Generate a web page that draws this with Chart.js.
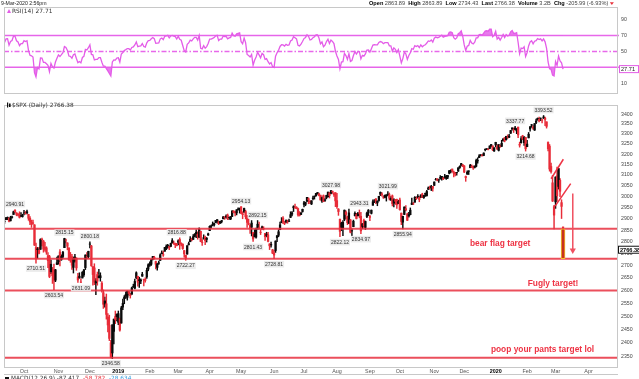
<!DOCTYPE html>
<html><head><meta charset="utf-8">
<script src="https://cdn.jsdelivr.net/npm/chart.js@4.4.1/dist/chart.umd.min.js"></script>
<style>
html,body{margin:0;padding:0;background:#fff;}
#wrap{position:relative;width:639px;height:379px;overflow:hidden;background:#fff;}
canvas{position:absolute;left:0;}
#rsi{top:0;} #main{top:99px;}
</style></head><body>
<div id="wrap"><canvas id="rsi" width="639" height="100"></canvas><canvas id="main" width="639" height="280"></canvas></div>
<script>
// ---- daily candles [open, high, low, close] ----
const sep2018 = [[2888,2894,2879,2889],[2896,2906,2896,2904],[2906,2908,2896,2905],[2903,2905,2886,2889],[2891,2911,2890,2904],[2906,2912,2903,2908],[2919,2934,2919,2931],[2937,2940.91,2927,2930],[2926,2927,2913,2919],[2921,2923,2913,2916],[2917,2931,2903,2906],[2911,2927,2909,2914],[2910,2920,2907,2914]];
const oct2018 = [[2926,2937,2917,2925],[2924,2932,2920,2923],[2931,2939,2921,2926],[2919,2920,2893,2902],[2902,2910,2874,2886],[2877,2894,2862,2884],[2882,2894,2875,2880],[2873,2874,2784,2786],[2776,2795,2710.51,2728],[2770,2776,2730,2767],[2764,2776,2749,2751],[2768,2813,2768,2810],[2811,2816,2782,2809],[2803,2806,2756,2769],[2776,2798,2760,2768],[2774,2779,2747,2756],[2721,2754,2692,2741],[2738,2743,2651,2656],[2675,2723,2667,2706],[2668,2693,2628,2659],[2683,2707,2603.54,2641],[2641,2685,2635,2683],[2705,2736,2705,2712]];
const nov2018 = [[2717,2741,2706,2740],[2757,2767,2699,2723],[2726,2745,2722,2738],[2738,2760,2732,2755],[2775,2815.15,2775,2814],[2807,2812,2795,2807],[2795,2796,2766,2781],[2773,2775,2722,2726],[2730,2755,2714,2722],[2737,2747,2685,2702],[2693,2736,2670,2730],[2719,2747,2714,2736],[2731,2733,2681,2691],[2654,2669,2632,2642],[2657,2671,2649,2650],[2633,2647,2631.09,2633],[2650,2676,2650,2673],[2663,2685,2656,2682],[2692,2745,2684,2744],[2736,2754,2729,2738],[2737,2760,2731,2760]];
const dec2018 = [[2790,2800.18,2774,2790],[2782,2785,2697,2700],[2664,2696,2621,2696],[2691,2708,2623,2633],[2630,2648,2583,2638],[2664,2674,2621,2637],[2658,2685,2650,2651],[2659,2671,2637,2651],[2629,2635,2593,2600],[2591,2602,2530,2546],[2559,2574,2535,2546],[2548,2586,2489,2507],[2497,2510,2441,2467],[2466,2504,2409,2417],[2401,2410,2346.58,2351],[2364,2467,2344,2468],[2443,2489,2397,2489],[2499,2520,2472,2486],[2498,2509,2482,2507]];
const jan2019 = [[2477,2520,2468,2510],[2491,2493,2444,2448],[2474,2538,2474,2532],[2535,2566,2525,2550],[2568,2580,2548,2574],[2580,2595,2569,2585],[2573,2598,2562,2597],[2588,2597,2581,2596],[2580,2589,2570,2583],[2585,2613,2585,2610],[2614,2625,2612,2616],[2609,2646,2606,2636],[2651,2675,2647,2671],[2657,2657,2617,2633],[2643,2653,2612,2639],[2638,2647,2627,2642],[2657,2673,2657,2665],[2644,2645,2618,2644],[2644,2651,2633,2640],[2654,2690,2648,2681],[2686,2708,2679,2704]];
const feb2019 = [[2702,2716,2697,2707],[2706,2725,2701,2725],[2728,2739,2724,2738],[2735,2739,2727,2732],[2717,2719,2687,2706],[2693,2709,2682,2708],[2712,2719,2705,2710],[2722,2749,2722,2745],[2750,2762,2749,2753],[2744,2761,2738,2746],[2760,2776,2760,2776],[2770,2787,2767,2780],[2779,2789,2773,2785],[2781,2783,2767,2775],[2780,2794,2780,2793],[2805,2814,2794,2796],[2793,2803,2789,2794],[2788,2795,2775,2792],[2789,2793,2782,2784]];
const mar2019 = [[2798,2808,2787,2804],[2810,2816.88,2768,2793],[2794,2796,2782,2790],[2790,2791,2768,2771],[2763,2763,2735,2749],[2731,2744,2722.27,2743],[2748,2784,2748,2783],[2788,2799,2786,2792],[2800,2822,2800,2811],[2811,2816,2804,2808],[2810,2831,2810,2822],[2823,2835,2821,2833],[2841,2852,2818,2833],[2832,2843,2811,2824],[2820,2860,2818,2855],[2845,2846,2800,2801],[2797,2809,2785,2798],[2812,2830,2812,2818],[2820,2825,2788,2805],[2810,2819,2799,2815],[2829,2837,2827,2834]];
const apr2019 = [[2848,2869,2848,2867],[2868,2872,2859,2867],[2876,2886,2869,2873],[2873,2881,2867,2879],[2884,2893,2883,2893],[2888,2896,2880,2896],[2887,2890,2874,2878],[2880,2889,2879,2888],[2892,2893,2882,2888],[2900,2911,2899,2907],[2908,2909,2897,2906],[2912,2917,2903,2907],[2916,2921,2896,2900],[2905,2909,2897,2905],[2899,2910,2896,2908],[2910,2936,2909,2934],[2934,2936,2926,2927],[2929,2933,2913,2926],[2926,2940,2917,2940],[2941,2949,2939,2943],[2938,2948,2925,2946]];
const may2019 = [[2953,2954.13,2923,2924],[2922,2931,2900,2918],[2929,2948,2929,2946],[2909,2938,2899,2932],[2914,2914,2862,2884],[2880,2898,2873,2879],[2859,2875,2836,2871],[2863,2892,2825,2881],[2840,2841,2801.43,2812],[2821,2852,2821,2834],[2820,2859,2816,2851],[2855,2892.15,2855,2876],[2858,2885,2854,2860],[2841,2853,2831,2840],[2855,2868,2855,2864],[2856,2865,2851,2856],[2836,2836,2806,2822],[2833,2841,2821,2826],[2830,2841,2799,2802],[2791,2792,2767,2783],[2786,2799,2777,2789],[2766,2768,2750,2752]];
const jun2019 = [[2752,2763,2728.81,2744],[2763,2804,2755,2803],[2818,2827,2801,2826],[2828,2852,2822,2843],[2852,2885,2852,2873],[2886,2905,2882,2887],[2903,2910,2878,2886],[2882,2888,2874,2880],[2886,2895,2882,2892],[2886,2894,2880,2887],[2889,2898,2887,2890],[2906,2931,2905,2918],[2920,2932,2912,2926],[2949,2958,2932,2954],[2952,2965,2946,2950],[2951,2954,2944,2945],[2945,2947,2911,2917],[2926,2932,2912,2914],[2919,2929,2918,2925],[2932,2943,2929,2942]];
const jul2019 = [[2971,2978,2953,2964],[2964,2974,2958,2973],[2978,2996,2978,2996],[2985,2994,2967,2990],[2980,2980,2967,2976],[2966,2981,2963,2980],[2990,3002,2984,2993],[2999,3003,2988,3000],[3003,3014,3001,3014],[3018,3018,3010,3014],[3012,3015,3002,3004],[3006,3006,2984,2984],[2979,2998,2973,2995],[3004,3007,2976,2977],[2982,2991,2977,2985],[2995,3006,2989,3005],[2999,3020,2997,3020],[3017,3018,2993,3004],[3014,3027.98,3012,3026],[3024,3025,3014,3021],[3008,3018,3000,3013],[3017,3018,2954,2980]];
const aug2019 = [[2981,3014,2946,2954],[2943,2945,2915,2932],[2898,2898,2822.12,2845],[2862,2885,2848,2882],[2859,2892,2826,2884],[2897,2939,2891,2938],[2930,2935,2900,2919],[2907,2912,2874,2883],[2880,2943.31,2878,2926],[2895,2897,2838,2841],[2846,2856,2826,2848],[2865,2894,2865,2889],[2913,2931,2913,2924],[2919,2924,2899,2901],[2913,2928,2913,2924],[2923,2939,2904,2923],[2911,2928,2834.97,2847],[2866,2879,2856,2878],[2893,2899,2861,2869],[2862,2890,2853,2888],[2910,2930,2905,2925],[2938,2941,2914,2926]];
const sep2019 = [[2910,2915,2892,2906],[2924,2939,2921,2938],[2960,2985,2960,2976],[2980,2986,2972,2979],[2989,2990,2967,2978],[2971,2980,2958,2979],[2982,3001,2979,3001],[3019,3021,3004,3010],[3012,3018,3001,3007],[2997,3003,2991,2998],[2996,3006,2993,3006],[3001,3008,2979,3007],[3011,3021.99,3004,3007],[3008,3016,2984,2992],[2984,2999,2982,2992],[3003,3007,2957,2967],[2969,2990,2953,2985],[2985,2987,2964,2978],[2986,2988,2946,2962],[2968,2983,2967,2977]];
const oct2019 = [[2984,2993,2938,2940],[2925,2925,2874,2888],[2885,2911,2855.94,2911],[2919,2953,2918,2952],[2945,2959,2935,2939],[2921,2925,2892,2893],[2912,2929,2907,2919],[2918,2948,2917,2938],[2964,2993,2963,2970],[2966,2973,2963,2966],[2974,3000,2974,2996],[2990,2998,2986,2990],[3001,3009,2992,2998],[2996,3000,2976,2986],[2997,3008,2995,3007],[3011,3015,2995,2996],[2995,3005,2991,3005],[3014,3016,3000,3010],[3004,3028,3001,3023],[3033,3044,3032,3039],[3036,3048,3034,3037],[3039,3051,3027,3047],[3046,3046,3024,3038]];
const nov2019 = [[3051,3067,3051,3067],[3079,3084,3075,3078],[3080,3083,3072,3075],[3076,3080,3065,3077],[3088,3097,3080,3085],[3082,3094,3075,3093],[3081,3088,3078,3087],[3089,3103,3084,3092],[3084,3098,3079,3094],[3090,3098,3083,3097],[3108,3121,3105,3120],[3118,3124,3109,3122],[3128,3128,3113,3120],[3114,3118,3091,3108],[3109,3112,3095,3104],[3112,3112,3099,3110],[3118,3134,3117,3134],[3135,3143,3131,3141],[3145,3155,3143,3154],[3148,3150,3139,3141]];
const dec2019 = [[3143,3144,3111,3114],[3087,3095,3070,3093],[3104,3120,3102,3113],[3119,3120,3102,3117],[3134,3151,3134,3146],[3141,3148,3136,3136],[3135,3143,3126,3133],[3136,3143,3133,3142],[3141,3176,3138,3169],[3167,3182,3156,3169],[3183,3198,3182,3191],[3195,3198,3191,3193],[3195,3199,3191,3191],[3193,3206,3192,3205],[3223,3226,3216,3221],[3226,3227,3222,3224],[3226,3226,3220,3223],[3227,3240,3227,3240],[3247,3247,3235,3240],[3240,3240,3217,3221],[3215,3231,3213,3231]];
const jan2020 = [[3245,3258,3235,3258],[3226,3246,3222,3235],[3218,3247,3215,3246],[3242,3245,3233,3237],[3238,3268,3236,3253],[3266,3275,3264,3275],[3281,3282,3260,3265],[3271,3288,3269,3288],[3285,3295,3277,3283],[3283,3298,3281,3289],[3303,3317,3302,3317],[3324,3330,3318,3330],[3321,3330,3307,3321],[3330,3337.77,3320,3322],[3315,3326,3301,3326],[3334,3334,3281,3295],[3248,3259,3234,3244],[3256,3286,3254,3276],[3290,3293,3271,3273],[3256,3286,3243,3284],[3282,3283,3214.68,3226]];
const feb2020 = [[3236,3268,3236,3249],[3280,3307,3280,3298],[3325,3338,3313,3335],[3344,3348,3333,3346],[3335,3342,3322,3328],[3319,3352,3317,3352],[3365,3375,3352,3358],[3370,3381,3370,3379],[3365,3386,3360,3374],[3379,3381,3367,3380],[3370,3375,3356,3370],[3380,3393.52,3378,3386],[3380,3385,3341,3373],[3361,3361,3329,3338],[3257,3260,3215,3226],[3239,3247,3118,3128],[3140,3156,3108,3116],[3063,3098,2977,2979],[2916,2960,2855,2954]];
const mar2020 = [[2975,3091,2946,3090],[3096,3137,2977,3003],[3046,3131,3034,3130],[3075,3083,2999,3024],[2955,2985,2901,2972],[2863.89,2863.89,2734.43,2766.38]];
// closes before the visible window (for RSI warm-up)
const warmupCloses = [2802.6,2816.29,2813.36,2827.22,2840.35,2850.40,2858.45,2857.70,2853.58,2833.28,2821.93,2839.96,2818.37,2840.69,2850.13,2857.05,2862.96,2861.82,2856.98,2874.69,2896.74,2897.52,2914.04,2901.13,2901.52,2896.72,2888.60,2878.05,2871.68,2877.13,2887.89];

// ---- axes / ticks ----
const monthTickIdx = [13,36,57,76,97,116,137,158,180,200,222,244,264,287,307,328,349,368,390];
const monthTickLabels = ['Oct','Nov','Dec','2019','Feb','Mar','Apr','May','Jun','Jul','Aug','Sep','Oct','Nov','Dec','2020','Feb','Mar','Apr'];
const priceTicks = [2350,2400,2450,2500,2550,2600,2650,2700,2750,2800,2850,2900,2950,3000,3050,3100,3150,3200,3250,3300,3350,3400];
const rsiTicks = [10,30,50,70,90];
const rsiLevels = [70,50,30];
const rsiLastValue = 27.71;
const lastPrice = 2766.38;

// ---- annotations (data coordinates: trading-day index, price) ----
const targetLevels = [2855.94, 2728.81, 2600, 2346.58];
const targetTexts = [['bear flag target',331,2793],['Fugly target!',366.3,2628],['poop your pants target lol',359.3,2377]];
const flagUpper = [[365,3082],[373.2,3175]];
const flagLower = [[367.7,2956],[378.1,3059]];
const arrowPath = [[379.5,3014],[379.5,2764]];
const poleBar = [373, 2728.81, 2855.94];
const priceLabels = [[7,2940.91,'up'],[21,2710.51,'dn'],[33,2603.54,'dn'],[40,2815.15,'up'],[51,2631.09,'dn'],[57,2800.18,'up'],[71,2346.58,'dn'],[115,2816.88,'up'],[121,2722.27,'dn'],[158,2954.13,'up'],[169,2892.15,'up'],[166,2801.43,'dn'],[180,2728.81,'dn'],[218,3027.98,'up'],[224,2822.12,'dn'],[237,2943.31,'up'],[238,2834.97,'dn'],[256,3021.99,'up'],[266,2855.94,'dn'],[341,3337.77,'up'],[348,3214.68,'dn'],[360,3393.52,'up']];
const headerLeft = '9-Mar-2020 2:56pm';
const headerRight = [['Open',1],[' 2863.89  ',0],['High',1],[' 2863.89  ',0],['Low',1],[' 2734.43  ',0],['Last',1],[' 2766.38  ',0],['Volume',1],[' 3.2B  ',0],['Chg',1],[' -205.99 (-6.93%) ',0]];

// ---- build ----
const ohlc = [].concat(sep2018,oct2018,nov2018,dec2018,jan2019,feb2019,mar2019,apr2019,may2019,jun2019,jul2019,aug2019,sep2019,oct2019,nov2019,dec2019,jan2020,feb2020,mar2020);
const closes = ohlc.map(r => r[3]);
const X_MIN = -0.36, X_MAX = 409.7;
const UP = '#0a0a0a', DN = '#e82c38';
const prevClose = i => i > 0 ? closes[i-1] : warmupCloses[warmupCloses.length-1];
const candleColors = ohlc.map((r,i) => r[3] < prevClose(i) ? DN : UP);

function rsiWilder(c, n) {
  const out = new Array(c.length).fill(null);
  let g = 0, l = 0;
  for (let i = 1; i <= n; i++) { const d = c[i]-c[i-1]; if (d > 0) g += d; else l -= d; }
  g /= n; l /= n; out[n] = 100 - 100/(1 + g/l);
  for (let i = n+1; i < c.length; i++) {
    const d = c[i]-c[i-1];
    g = (g*(n-1) + Math.max(d,0))/n; l = (l*(n-1) + Math.max(-d,0))/n;
    out[i] = 100 - 100/(1 + g/l);
  }
  return out;
}
const rsi = rsiWilder(warmupCloses.concat(closes), 14).slice(warmupCloses.length);
const rsiData = rsi.map((v,i) => ({x:i, y:v}));
const RSI_COL = '#e45ce8', RSI_FILL = 'rgba(226,90,232,0.8)', LVL_COL = '#e868ea';

// ---------- RSI panel ----------
const rsiDecor = {
  id:'rsiDecor',
  beforeDatasetsDraw(chart) {
    const {ctx, chartArea:a, scales:{y}} = chart;
    ctx.save();
    ctx.strokeStyle = LVL_COL; ctx.lineWidth = 1.6;
    rsiLevels.forEach(v => {
      const py = y.getPixelForValue(v);
      ctx.setLineDash(v === 50 ? [5,2,1.5,2] : []);
      ctx.beginPath(); ctx.moveTo(a.left, py); ctx.lineTo(a.right + 1, py); ctx.stroke();
    });
    ctx.restore();
  },
  afterDraw(chart) {
    const {ctx, chartArea:a, scales:{y}} = chart;
    ctx.save();
    ctx.strokeStyle = '#c8c8c8'; ctx.lineWidth = 1;
    ctx.strokeRect(Math.round(a.left)+0.5, Math.round(a.top)+0.5, Math.round(a.right-a.left)-1, Math.round(a.bottom-a.top)-1);
    // header
    ctx.textBaseline = 'middle'; ctx.textAlign = 'left';
    ctx.font = '5.2px "Liberation Sans"'; ctx.fillStyle = '#222';
    ctx.fillText(headerLeft, 1, 3.5);
    let hx = 369;
    headerRight.forEach(([t,b]) => {
      ctx.font = (b ? 'bold ' : '') + '5.6px "Liberation Sans"';
      ctx.fillStyle = b ? '#000' : '#444';
      ctx.fillText(t, hx, 3.5); hx += ctx.measureText(t).width;
    });
    ctx.fillStyle = '#e8303a'; ctx.beginPath();
    ctx.moveTo(hx, 2.3); ctx.lineTo(hx+4, 2.3); ctx.lineTo(hx+2, 5); ctx.closePath(); ctx.fill();
    // legend
    ctx.fillStyle = RSI_COL; ctx.beginPath();
    ctx.moveTo(7, 13); ctx.lineTo(9, 9); ctx.lineTo(11, 13); ctx.closePath(); ctx.fill();
    ctx.font = '5.9px "DejaVu Sans"'; ctx.fillStyle = '#333';
    ctx.fillText('RSI(14) ' + rsiLastValue.toFixed(2), 12, 11.3);
    // last value box
    const py = y.getPixelForValue(rsiLastValue);
    ctx.fillStyle = '#fff'; ctx.fillRect(619.5, py-3.5, 19, 7);
    ctx.strokeStyle = RSI_COL; ctx.lineWidth = 1; ctx.strokeRect(619.5, py-3.5, 19, 7);
    ctx.fillStyle = '#222'; ctx.font = '5.6px "Liberation Sans"';
    ctx.fillText(rsiLastValue.toFixed(2), 621, py+0.3);
    ctx.restore();
  }
};
new Chart(document.getElementById('rsi'), {
  type:'line',
  data:{datasets:[
    {data:rsiData, borderColor:RSI_COL, borderWidth:1.3, pointRadius:0, tension:0, order:1,
     fill:{target:{value:70}, above:RSI_FILL, below:'rgba(0,0,0,0)'}},
    {data:rsiData, borderColor:'rgba(0,0,0,0)', borderWidth:0, pointRadius:0, tension:0, order:2,
     fill:{target:{value:30}, above:'rgba(0,0,0,0)', below:RSI_FILL}}
  ]},
  options:{
    responsive:false, animation:false, devicePixelRatio:1,
    layout:{padding:{left:4, top:7, right:0, bottom:1}},
    plugins:{legend:{display:false}, tooltip:{enabled:false}},
    scales:{
      x:{type:'linear', display:false, min:X_MIN, max:X_MAX, bounds:'data'},
      y:{type:'linear', position:'right', min:-3.5, max:106, bounds:'data',
         grid:{display:false, drawTicks:false}, border:{display:false},
         afterBuildTicks:s => { s.ticks = rsiTicks.map(v => ({value:v})); },
         afterFit:s => { s.width = 21; },
         ticks:{padding:3, color:'#444', font:{size:5.2, family:'Liberation Sans'}, callback:v => String(v)}}
    }
  },
  plugins:[rsiDecor]
});

// ---------- price panel ----------
const mainDecor = {
  id:'mainDecor',
  afterDraw(chart) {
    const {ctx, chartArea:a, scales:{x,y}} = chart;
    ctx.save();
    ctx.strokeStyle = '#c8c8c8'; ctx.lineWidth = 1;
    ctx.strokeRect(Math.round(a.left)+0.5, Math.round(a.top)+0.5, Math.round(a.right-a.left)-1, Math.round(a.bottom-a.top));
    // MACD panel top edge
    ctx.beginPath(); ctx.moveTo(a.left, 275.5); ctx.lineTo(a.right, 275.5); ctx.stroke();
    // price labels
    ctx.font = '5px "Liberation Sans"'; ctx.textAlign = 'center'; ctx.textBaseline = 'middle';
    priceLabels.forEach(([i,v,side]) => {
      const px = x.getPixelForValue(i);
      const py = y.getPixelForValue(v) + (side === 'up' ? -5.5 : 5.5);
      const t = v.toFixed(2), w = ctx.measureText(t).width + 2;
      ctx.fillStyle = 'rgba(234,234,234,0.95)'; ctx.fillRect(px - w/2, py - 3.3, w, 6.6);
      ctx.fillStyle = '#333'; ctx.fillText(t, px, py + 0.3);
    });
    // target texts
    ctx.font = 'bold 8.4px "Liberation Sans"'; ctx.fillStyle = '#ee3344';
    targetTexts.forEach(([t,i,v]) => ctx.fillText(t, x.getPixelForValue(i), y.getPixelForValue(v)));
    // title
    ctx.textAlign = 'left';
    ctx.fillStyle = '#111'; ctx.fillRect(7, 3.5, 1.2, 5); ctx.fillRect(9, 4.5, 1.6, 3.5);
    ctx.font = '5.8px "DejaVu Sans"'; ctx.fillStyle = '#333';
    ctx.fillText('$SPX (Daily) ' + lastPrice.toFixed(2), 12, 6);
    // last price box
    const ly = y.getPixelForValue(lastPrice);
    ctx.fillStyle = '#fff'; ctx.fillRect(618.5, ly-3.5, 22, 7);
    ctx.strokeStyle = '#111'; ctx.strokeRect(618.5, ly-3.5, 22, 7);
    ctx.font = 'bold 5.6px "Liberation Sans"'; ctx.fillStyle = '#000';
    ctx.fillText(lastPrice.toFixed(2), 620, ly + 0.3);
    // MACD header (cut by bottom edge)
    ctx.textBaseline = 'top';
    ctx.fillStyle = '#111'; ctx.fillRect(5, 278, 4, 2.5);
    ctx.font = '5.8px "DejaVu Sans"';
    let mx = 11;
    [['MACD(12,26,9) -87.417, ','#333'],['-58.782','#e8303a'],[', ','#333'],['-28.634','#3aa0e0']].forEach(([t,c]) => {
      ctx.fillStyle = c; ctx.fillText(t, mx, 276.8); mx += ctx.measureText(t).width;
    });
    ctx.restore();
  }
};
const lineDs = (pts, color, w, order) => ({type:'line', data:pts.map(([i,v]) => ({x:i, y:v})), borderColor:color, borderWidth:w, pointRadius:0, tension:0, order});
new Chart(document.getElementById('main'), {
  type:'bar',
  data:{datasets:[
    {type:'bar', data:ohlc.map((r,i) => ({x:i, y:[r[2], r[1]]})), backgroundColor:candleColors, barThickness:0.8, grouped:false, order:6},
    {type:'bar', data:ohlc.map((r,i) => ({x:i, y:[Math.min(r[0],r[3]), Math.max(r[0],r[3]) + (r[0]===r[3] ? 0.5 : 0)]})), backgroundColor:candleColors, barThickness:1.6, grouped:false, order:5},
    ...targetLevels.map(v => lineDs([[X_MIN,v],[X_MAX,v]], 'rgba(232,48,64,0.85)', 2, 3)),
    lineDs(flagUpper, '#ee3344', 1.5, 2),
    lineDs(flagLower, '#ee3344', 1.5, 2),
    {type:'bar', data:[{x:poleBar[0], y:[poleBar[1], poleBar[2]]}], backgroundColor:'#c83020', borderColor:'#f2c628', borderWidth:1, borderSkipped:false, barThickness:4, grouped:false, order:1},
    {type:'line', data:arrowPath.map(([i,v]) => ({x:i, y:v})), borderColor:'#f05060', borderWidth:1.5, tension:0, order:0,
     pointRadius:[0,3.6], pointStyle:'triangle', rotation:180, pointBackgroundColor:'#f05060', pointBorderWidth:0}
  ]},
  options:{
    responsive:false, animation:false, devicePixelRatio:1,
    layout:{padding:{left:4, top:1, right:0, bottom:4}},
    plugins:{legend:{display:false}, tooltip:{enabled:false}},
    scales:{
      x:{type:'linear', min:X_MIN, max:X_MAX, bounds:'data', offset:false,
         grid:{display:false, drawTicks:false}, border:{display:false},
         afterBuildTicks:s => { s.ticks = monthTickIdx.map(v => ({value:v})); },
         afterFit:s => { s.height = 8; },
         ticks:{autoSkip:false, maxRotation:0, minRotation:0, padding:1,
                color:c => /^\d{4}$/.test(monthTickLabels[c.index]) ? '#000' : '#555',
                font:c => ({size:5.4, family:'Liberation Sans', weight:/^\d{4}$/.test(monthTickLabels[c.index]) ? 'bold' : 'normal'}),
                callback:(v, idx) => monthTickLabels[idx]}},
      y:{type:'logarithmic', position:'right', min:2314.1, max:3447.6, bounds:'data',
         grid:{display:false, drawTicks:false}, border:{display:false},
         afterBuildTicks:s => { s.ticks = priceTicks.map(v => ({value:v})); },
         afterFit:s => { s.width = 21; },
         ticks:{autoSkip:false, padding:3, color:'#444', font:{size:5.2, family:'Liberation Sans'}, callback:v => String(v)}}
    }
  },
  plugins:[mainDecor]
});
</script></body></html>
